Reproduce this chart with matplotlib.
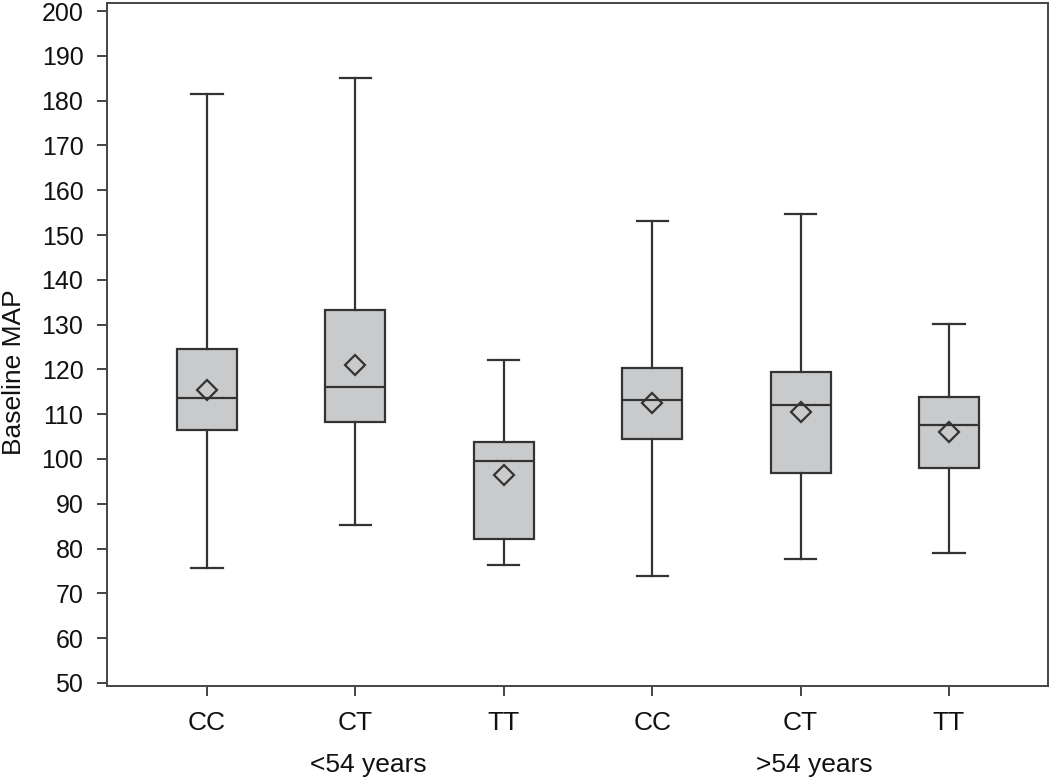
import matplotlib
matplotlib.use('Agg')
import matplotlib.pyplot as plt

plt.rcParams['font.family'] = ['Liberation Sans', 'DejaVu Sans']

# genotype groups, left three <54 years, right three >54 years
genotypes = ['CC', 'CT', 'TT', 'CC', 'CT', 'TT']
age_groups = ['<54 years', '>54 years']

whisker_low = [75.7, 85.3, 76.3, 73.9, 77.6, 78.9]
q1 = [106.4, 108.2, 82.2, 104.4, 96.9, 98.0]
median = [113.5, 116.1, 99.6, 113.1, 112.1, 107.5]
q3 = [124.6, 133.2, 103.7, 120.3, 119.5, 113.9]
whisker_high = [181.6, 185.0, 122.2, 153.1, 154.6, 130.1]
mean = [115.4, 121.0, 96.4, 112.4, 110.4, 106.0]

line_col = '#333333'

stats = []
for i in range(len(genotypes)):
    stats.append({'label': genotypes[i], 'whislo': whisker_low[i], 'q1': q1[i],
                  'med': median[i], 'q3': q3[i], 'whishi': whisker_high[i],
                  'mean': mean[i], 'fliers': []})

fig = plt.figure(figsize=(10.5, 7.79), dpi=100)
ax = fig.add_axes([0.1019, 0.1194, 0.8961, 0.8767])

ax.bxp(stats, positions=range(1, 7), widths=0.404, patch_artist=True,
       showmeans=True, showfliers=False,
       boxprops=dict(facecolor='#c9cacc', edgecolor=line_col, linewidth=1.6),
       medianprops=dict(color=line_col, linewidth=1.6),
       whiskerprops=dict(color=line_col, linewidth=1.6),
       capprops=dict(color=line_col, linewidth=1.6),
       capwidths=0.21,
       meanprops=dict(marker='D', markerfacecolor='none', markeredgecolor=line_col,
                      markeredgewidth=1.6, markersize=10))

ax.set_xlim(0.326, 6.667)
ax.set_ylim(49.3, 201.8)
ax.set_yticks(range(50, 201, 10))
ax.set_xticks(range(1, 7))
ax.set_xticklabels(genotypes)

for s in ax.spines.values():
    s.set_color('#444444')
    s.set_linewidth(1.4)

ax.tick_params(axis='both', direction='out', length=7, width=1.4, color='#444444',
               labelcolor='#111111')
ax.tick_params(axis='y', pad=10, labelsize=18)
ax.tick_params(axis='x', pad=11, labelsize=19)

# age group labels under the ticks
ax.text(2.09, -0.115, age_groups[0], transform=ax.get_xaxis_transform(),
        ha='center', va='center', fontsize=19, color='#111111')
ax.text(5.09, -0.115, age_groups[1], transform=ax.get_xaxis_transform(),
        ha='center', va='center', fontsize=19, color='#111111')

fig.text(14 / 1050, 1 - 372 / 779, 'Baseline MAP', rotation=90, ha='center', va='center',
         fontsize=19, color='#111111')

fig.savefig('out.png', dpi=100)
